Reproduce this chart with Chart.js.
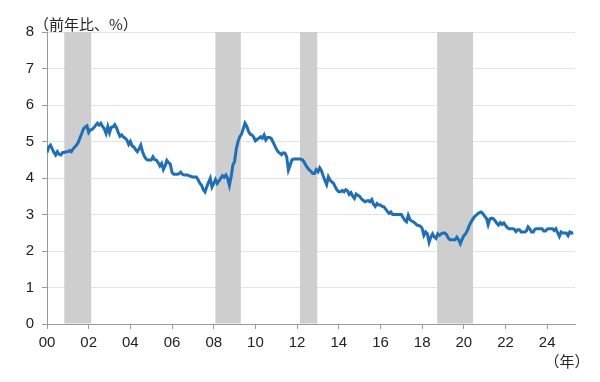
<!DOCTYPE html>
<html lang="ja">
<head>
<meta charset="utf-8">
<title>前年比</title>
<script src="https://cdn.jsdelivr.net/npm/chart.js@4.4.1/dist/chart.umd.min.js"></script>
<style>
  html, body { margin: 0; padding: 0; background: #fff; }
  #wrap { width: 600px; height: 382px; }
</style>
</head>
<body>
<div id="wrap"><canvas id="chart" width="600" height="382"></canvas></div>
<script>
// 月次データ（2000年1月〜）
const startYear = 2000;
const yoy = [
  4.70, 4.85, 4.90, 4.80, 4.70, 4.63, 4.72, 4.65, 4.63, 4.70, 4.70, 4.72,
  4.72, 4.75, 4.72, 4.80, 4.85, 4.90, 4.98, 5.10, 5.22, 5.35, 5.40, 5.43,
  5.25, 5.32, 5.33, 5.38, 5.44, 5.50, 5.45, 5.50, 5.41, 5.35, 5.22, 5.41,
  5.24, 5.39, 5.40, 5.46, 5.38, 5.25, 5.14, 5.18, 5.12, 5.09, 5.04, 4.92,
  5.00, 4.88, 4.85, 4.78, 4.72, 4.80, 4.90, 4.72, 4.60, 4.52, 4.49, 4.49,
  4.49, 4.58, 4.50, 4.49, 4.42, 4.33, 4.40, 4.23, 4.33, 4.48, 4.42, 4.38,
  4.15, 4.10, 4.10, 4.10, 4.12, 4.16, 4.10, 4.08, 4.08, 4.08, 4.06, 4.04,
  4.03, 4.03, 4.03, 3.95, 3.86, 3.80, 3.68, 3.62, 3.76, 3.88, 3.99, 3.75,
  3.85, 3.96, 3.85, 3.92, 3.99, 4.06, 4.02, 4.08, 3.99, 3.80, 4.03, 4.35,
  4.45, 4.80, 5.00, 5.13, 5.20, 5.35, 5.50, 5.42, 5.28, 5.20, 5.18, 5.12,
  5.02, 5.06, 5.09, 5.13, 5.09, 5.18, 5.04, 5.11, 5.11, 5.09, 5.00, 4.90,
  4.80, 4.72, 4.68, 4.64, 4.69, 4.68, 4.58, 4.22, 4.35, 4.50, 4.52, 4.52,
  4.52, 4.52, 4.52, 4.50, 4.44, 4.35, 4.28, 4.22, 4.18, 4.12, 4.12, 4.23,
  4.17, 4.28, 4.20, 4.06, 3.93, 3.82, 4.03, 3.94, 3.89, 3.85, 3.75, 3.67,
  3.62, 3.62, 3.66, 3.62, 3.68, 3.65, 3.55, 3.60, 3.50, 3.44, 3.56, 3.53,
  3.50, 3.43, 3.39, 3.35, 3.37, 3.38, 3.35, 3.41, 3.28, 3.22, 3.30, 3.26,
  3.26, 3.22, 3.21, 3.15, 3.08, 3.03, 3.07, 3.00, 3.00, 3.00, 3.00, 3.00,
  3.00, 2.92, 2.84, 2.80, 2.98, 2.86, 2.82, 2.80, 2.76, 2.71, 2.70, 2.68,
  2.62, 2.43, 2.52, 2.47, 2.24, 2.38, 2.47, 2.38, 2.34, 2.47, 2.43, 2.47,
  2.49, 2.49, 2.45, 2.36, 2.31, 2.31, 2.31, 2.31, 2.38, 2.31, 2.20, 2.32,
  2.42, 2.47, 2.56, 2.68, 2.78, 2.86, 2.93, 2.98, 3.02, 3.05, 3.07, 3.02,
  2.95, 2.90, 2.72, 2.88, 2.90, 2.88, 2.83, 2.76, 2.71, 2.78, 2.73, 2.77,
  2.70, 2.64, 2.61, 2.61, 2.61, 2.60, 2.53, 2.58, 2.58, 2.52, 2.52, 2.52,
  2.55, 2.66, 2.60, 2.52, 2.52, 2.60, 2.61, 2.61, 2.61, 2.61, 2.55, 2.55,
  2.60, 2.61, 2.61, 2.61, 2.56, 2.61, 2.50, 2.40, 2.52, 2.49, 2.49, 2.49,
  2.42, 2.52, 2.49, 2.50
];

// 景気後退期（年、小数）
const recessions = [
  [2000.83, 2002.12],
  [2008.08, 2009.30],
  [2012.14, 2012.97],
  [2018.72, 2020.44]
];

const xTickLabels = ['00', '02', '04', '06', '08', '10', '12', '14', '16', '18', '20', '22', '24'];
const yTicks = [0, 1, 2, 3, 4, 5, 6, 7, 8];
const yTitle = '（前年比、%）';
const xTitle = '（年）';

const FONT = "'Liberation Sans', 'Noto Sans CJK JP', sans-serif";
const JP_FONT = "'Noto Sans CJK JP', sans-serif";

const monthsOf = y => (y - startYear) * 12;

const shadePlugin = {
  id: 'shade',
  beforeDatasetsDraw(chart) {
    const { ctx, chartArea, scales: { x } } = chart;
    ctx.save();
    ctx.fillStyle = '#cecece';
    recessions.forEach(([s, e]) => {
      const x0 = x.getPixelForValue(monthsOf(s));
      const x1 = x.getPixelForValue(monthsOf(e));
      ctx.fillRect(x0, chartArea.top, x1 - x0, chartArea.bottom - chartArea.top - 0.5);
    });
    ctx.restore();
  }
};

const labelsPlugin = {
  id: 'labels',
  afterDraw(chart) {
    const { ctx } = chart;
    ctx.save();
    ctx.fillStyle = '#222';
    ctx.font = `15px ${JP_FONT}`;
    ctx.textBaseline = 'middle';
    ctx.textAlign = 'left';
    ctx.fillText(yTitle, 34, 24);
    ctx.textAlign = 'center';
    ctx.fillText(xTitle, 567, 361);
    ctx.restore();
  }
};

new Chart(document.getElementById('chart'), {
  type: 'line',
  data: {
    datasets: [{
      data: yoy.map((v, i) => ({ x: i, y: v })),
      borderColor: '#1c70ba',
      borderWidth: 3,
      pointRadius: 0,
      tension: 0,
      fill: false
    }]
  },
  options: {
    responsive: false,
    animation: false,
    devicePixelRatio: 1,
    layout: { padding: { top: 32, right: 25, left: 0, bottom: 0 } },
    plugins: {
      legend: { display: false },
      tooltip: { enabled: false }
    },
    scales: {
      x: {
        type: 'linear',
        min: 0,
        max: 304,
        afterBuildTicks: axis => {
          axis.ticks = xTickLabels.map((_, i) => ({ value: i * 24 }));
        },
        afterFit: s => { s.height = 58; },
        ticks: {
          autoSkip: false,
          maxRotation: 0,
          padding: 5,
          color: '#222',
          font: { family: FONT, size: 15 },
          callback: v => xTickLabels[Math.round(v / 24)]
        },
        grid: { drawOnChartArea: false, tickLength: 5, color: '#9a9a9a' },
        border: { color: '#9a9a9a' }
      },
      y: {
        min: yTicks[0],
        max: yTicks[yTicks.length - 1],
        afterBuildTicks: axis => {
          axis.ticks = yTicks.map(v => ({ value: v }));
        },
        afterFit: s => { s.width = 47; },
        ticks: {
          padding: 8,
          color: '#222',
          font: { family: FONT, size: 15 }
        },
        grid: { color: '#e4e4e4', tickColor: '#9a9a9a', tickLength: 5 },
        border: { color: '#9a9a9a' }
      }
    }
  },
  plugins: [shadePlugin, labelsPlugin]
});
</script>
</body>
</html>
